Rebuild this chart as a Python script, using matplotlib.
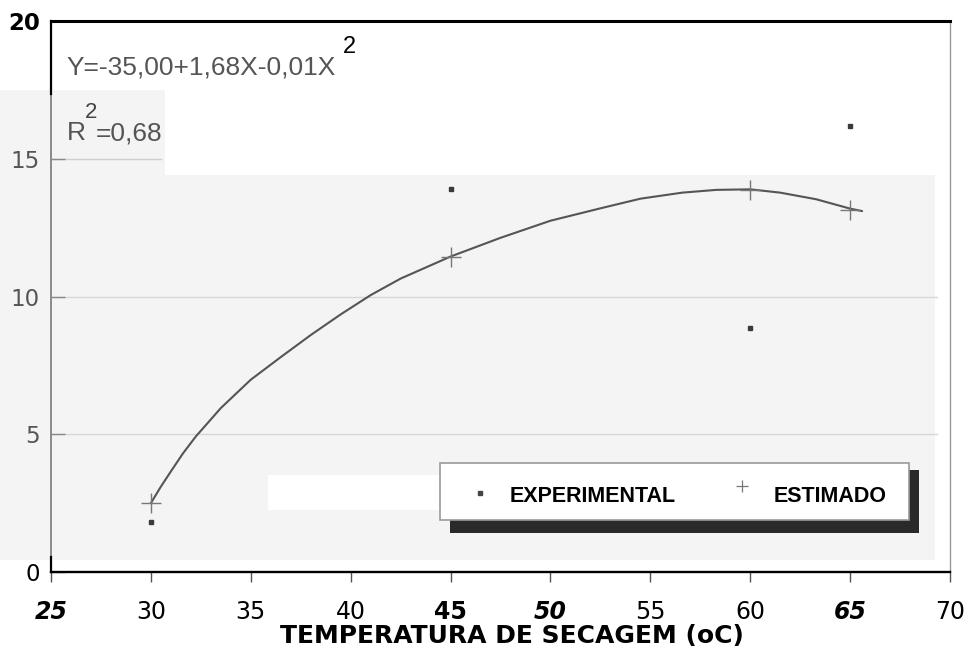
import numpy as np
import matplotlib.pyplot as plt
from matplotlib.patches import Rectangle

plt.rcParams['font.family'] = ['DejaVu Sans']

# experimental and estimated points
temp = [30, 45, 60, 65]
exp_vals = [1.8, 13.9, 8.85, 16.2]
est_vals = [2.5, 11.45, 13.85, 13.15]

# fitted curve, read along its length
curve_x = [30.0, 30.5, 31.0, 31.6, 32.25, 33.5, 35.0, 36.5, 38.0, 39.5, 41.0, 42.5, 45.0,
           47.5, 50.0, 52.5, 54.5, 56.6, 58.3, 60.0, 61.5, 63.3, 65.0, 65.6]
curve_y = [2.5, 3.1, 3.65, 4.3, 4.92, 5.95, 6.98, 7.8, 8.6, 9.35, 10.05, 10.65, 11.45,
           12.13, 12.75, 13.2, 13.55, 13.77, 13.87, 13.89, 13.77, 13.53, 13.19, 13.1]

xticks = [25, 30, 35, 40, 45, 50, 55, 60, 65, 70]
yticks = [0, 5, 10, 15, 20]
legend_labels = ['EXPERIMENTAL', 'ESTIMADO']

xtick_style = {25: ('bold', 'italic'), 45: ('bold', 'normal'), 50: ('bold', 'italic'),
               65: ('bold', 'italic')}

fig = plt.figure(figsize=(9.69, 6.51), dpi=100)
ax = fig.add_axes([51/969, 1-572/651, (950-51)/969, (572-21)/651])


def px(x, y):
    # pixel position -> data coords of this axes
    return 25 + (x - 51) / 20, (572 - y) / 27.55


# paper tone
paper = '#f4f4f4'
fig.add_artist(Rectangle((0, 1-560/651), 935/969, (560-175)/651, transform=fig.transFigure,
                         facecolor=paper, edgecolor='none', zorder=0))
fig.add_artist(Rectangle((0, 1-175/651), 165/969, (175-90)/651, transform=fig.transFigure,
                         facecolor=paper, edgecolor='none', zorder=0))
fig.add_artist(Rectangle((268/969, 1-510/651), (440-268)/969, (510-475)/651, transform=fig.transFigure,
                         facecolor='white', edgecolor='none', zorder=0))
ax.patch.set_alpha(0)

ax.set_xlim(25, 70)
ax.set_ylim(0, 20)

# grid lines
for g in [5, 10]:
    ax.axhline(g, xmin=0, xmax=0.985, color='#d6d6d6', lw=1, zorder=1)
ax.plot([25, 30.5], [15, 15], color='#cfcfcf', lw=1, zorder=1)

ax.plot(curve_x, curve_y, color='#555555', lw=1.5, zorder=3, solid_capstyle='round',
        solid_joinstyle='round')
ax.plot(temp, est_vals, linestyle='none', marker='+', ms=14, mew=1.0, color='#777777', zorder=4)
ax.plot(temp, exp_vals, linestyle='none', marker='s', ms=3.5, color='#3a3a3a', zorder=4)

# frame
ax.spines['left'].set_linewidth(1.4)
ax.spines['left'].set_color('#8a8a8a')
ax.plot([25, 25], [17.35, 20], color='black', lw=1.6, clip_on=False, zorder=6)
ax.plot([25, 25], [0, 0.55], color='black', lw=1.6, clip_on=False, zorder=6)
ax.spines['bottom'].set_linewidth(1.7)
ax.spines['bottom'].set_color('black')
ax.spines['top'].set_linewidth(2.2)
ax.spines['top'].set_color('black')
ax.spines['right'].set_linewidth(1.0)
ax.spines['right'].set_color('#999999')

ax.set_xticks(xticks)
ax.set_xticklabels([str(t) for t in xticks])
ax.tick_params(axis='x', direction='out', length=7, width=1, color='#555555', pad=13, labelsize=17)
for lbl, t in zip(ax.get_xticklabels(), xticks):
    w, s = xtick_style.get(t, ('normal', 'normal'))
    lbl.set_fontweight(w)
    lbl.set_fontstyle(s)
    lbl.set_color('black')

ax.set_yticks(yticks)
ax.set_yticklabels([str(t) for t in yticks])
ax.tick_params(axis='y', direction='in', length=10, width=1, color='#888888', pad=8, labelsize=16.5)
for lbl, t in zip(ax.get_yticklabels(), yticks):
    if t == 20:
        lbl.set_fontweight('bold')
        lbl.set_color('black')
    elif t == 0:
        lbl.set_color('black')
    else:
        lbl.set_color('#555555')

fig.text(512/969, 1-643/651, 'TEMPERATURA DE SECAGEM (oC)', fontsize=18, fontweight='bold',
         ha='center', va='baseline')

# regression equation
eq_font = {'family': 'Liberation Sans', 'size': 19, 'color': '#555555'}
ax.text(*px(67, 75), 'Y=-35,00+1,68X-0,01X', va='baseline', **eq_font)
ax.text(*px(343, 53), '2', va='baseline', family='Liberation Sans', size=17, color='black')
ax.text(*px(67, 140), 'R', va='baseline', **eq_font)
ax.text(*px(85, 118), '2', va='baseline', family='Liberation Sans', size=16, color='#444444')
ax.text(*px(96, 140), '=0,68', va='baseline', **eq_font)

# legend box with offset shadow
x0, y0 = px(450, 533)
x1, y1 = px(920, 470)
ax.add_patch(Rectangle((x0, y0), x1 - x0, y1 - y0, facecolor='#2a2a2a', edgecolor='none', zorder=5))
x0, y0 = px(440, 520)
x1, y1 = px(910, 463)
ax.add_patch(Rectangle((x0, y0), x1 - x0, y1 - y0, facecolor='white', edgecolor='#9a9a9a',
                       lw=1.2, zorder=6))
ax.plot(*px(480, 493), marker='s', ms=3, color='#444444', zorder=7)
ax.plot(*px(743, 486), marker='+', ms=9, mew=0.9, color='#777777', zorder=7)
ax.text(*px(510, 502), legend_labels[0], va='baseline', family='Liberation Sans',
        fontweight='bold', size=15.5, zorder=7)
ax.text(*px(774, 502), legend_labels[1], va='baseline', family='Liberation Sans',
        fontweight='bold', size=15.5, zorder=7)

fig.savefig('out.png', dpi=100)
